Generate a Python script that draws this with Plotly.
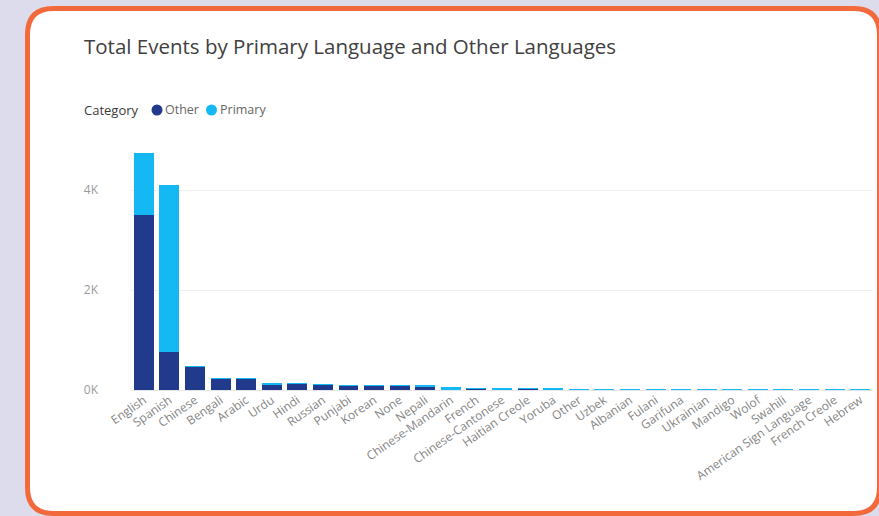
import plotly.graph_objects as go

categories = ["English", "Spanish", "Chinese", "Bengali", "Arabic", "Urdu", "Hindi", "Russian",
              "Punjabi", "Korean", "None", "Nepali", "Chinese-Mandarin", "French",
              "Chinese-Cantonese", "Haitian Creole", "Yoruba", "Other", "Uzbek", "Albanian",
              "Fulani", "Garifuna", "Ukrainian", "Mandigo", "Wolof", "Swahili",
              "American Sign Language", "French Creole", "Hebrew"]
other_vals = [3500, 760, 470, 225, 220, 100, 120, 115, 85, 85, 90, 55, 10, 30, 5, 28, 5,
              15, 12, 11, 10, 8, 2, 6, 5, 3, 2, 1, 1]
primary_vals = [1250, 3340, 5, 15, 20, 50, 5, 5, 12, 8, 5, 45, 50, 3, 28, 2, 22,
                3, 2, 2, 2, 2, 6, 1, 1, 1, 1, 1, 1]
y_ticks = [0, 2000, 4000]
y_tick_labels = ["0K", "2K", "4K"]
series_names = ["Other", "Primary"]

COL_OTHER = "#213a8c"
COL_PRIMARY = "#14b9f4"
W, H = 879, 516
ML, MR, MT, MB = 131, 6, 140, 126
PW, PH = W - ML - MR, H - MT - MB

def px(x):
    return (x - ML) / PW

def py(y):
    return (H - MB - y) / PH

fig = go.Figure()
fig.add_trace(go.Bar(x=categories, y=other_vals, name=series_names[0], marker_color=COL_OTHER,
                     marker_line_width=0, showlegend=False))
fig.add_trace(go.Bar(x=categories, y=primary_vals, name=series_names[1], marker_color=COL_PRIMARY,
                     marker_line_width=0, showlegend=False))

# card
L, T, R, B, r = 27.5, 8.5, 879.5, 513.5, 26
pts = [
    f"M {px(L + r)},{py(T)}",
    f"L {px(R - r)},{py(T)}",
    f"Q {px(R)},{py(T)} {px(R)},{py(T + r)}",
    f"L {px(R)},{py(B - r)}",
    f"Q {px(R)},{py(B)} {px(R - r)},{py(B)}",
    f"L {px(L + r)},{py(B)}",
    f"Q {px(L)},{py(B)} {px(L)},{py(B - r)}",
    f"L {px(L)},{py(T + r)}",
    f"Q {px(L)},{py(T)} {px(L + r)},{py(T)}",
    "Z",
]
fig.add_shape(type="path", path=" ".join(pts), xref="paper", yref="paper",
              fillcolor="white", line=dict(color="#f26a3b", width=5), layer="below")

font_fam = "Segoe UI, Open Sans, sans-serif"
fig.add_annotation(text="Total Events by Primary Language and Other Languages",
                   xref="paper", yref="paper", x=px(82), y=py(46), xanchor="left",
                   yanchor="middle", showarrow=False,
                   font=dict(family=font_fam, size=20.5, color="#404040"))

# legend: title, circles, labels
LEG_Y = 110
fig.add_annotation(text="Category", xref="paper", yref="paper", x=px(82), y=py(LEG_Y),
                   xanchor="left", yanchor="middle", showarrow=False,
                   font=dict(family=font_fam, size=13, color="#3a3a3a"))
for cx, col, name in [(157, COL_OTHER, series_names[0]), (211.5, COL_PRIMARY, series_names[1])]:
    fig.add_shape(type="circle", xref="paper", yref="paper",
                  x0=px(cx - 5.5), x1=px(cx + 5.5), y0=py(LEG_Y - 5.5), y1=py(LEG_Y + 5.5),
                  fillcolor=col, line=dict(width=0))
    fig.add_annotation(text=name, xref="paper", yref="paper", x=px(cx + 6), y=py(LEG_Y),
                       xanchor="left", yanchor="middle", showarrow=False,
                       font=dict(family=font_fam, size=12.5, color="#666"))

fig.update_layout(
    width=W, height=H,
    margin=dict(l=ML, r=MR, t=MT, b=MB),
    paper_bgcolor="#dcdcec",
    plot_bgcolor="rgba(0,0,0,0)",
    barmode="stack",
    bargap=0.22,
    font=dict(family=font_fam),
    xaxis=dict(tickangle=-35, tickfont=dict(size=12, color="#858585"), showgrid=False,
               showline=False, ticks="", fixedrange=True),
    yaxis=dict(range=[0, 5000], tickvals=y_ticks, ticktext=y_tick_labels,
               tickfont=dict(size=12, color="#9a9a9a"), showgrid=True, gridcolor="#eeeeee",
               gridwidth=1, zeroline=True, zerolinecolor="#e6e6e6", zerolinewidth=1,
               ticklabelstandoff=32),
)

fig.write_html("out.html")
